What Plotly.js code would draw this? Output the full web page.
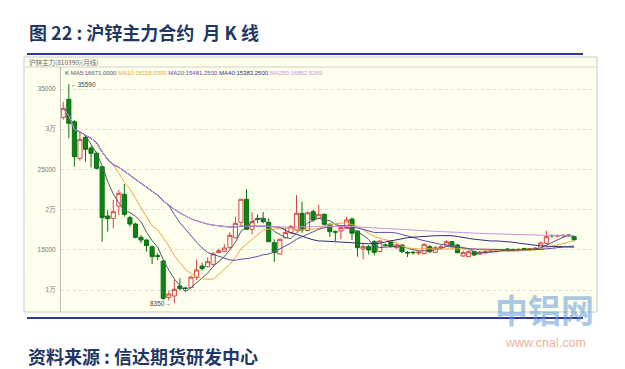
<!DOCTYPE html>
<html><head><meta charset="utf-8">
<script src="https://cdn.plot.ly/plotly-3.0.1.min.js"></script>
<style>html,body{margin:0;padding:0;background:#fff;}#chart{width:625px;height:369px;}</style>
</head><body><div id="chart"></div>
<script>
// Monthly K-line data, SHFE zinc main contract
const openP  = [31476,33715,30937,26377,28989,27662,27000,25340,19204,18914,
                20448,21899,18997,18209,16551,16219,15390,14270,13607,9088,
                9254,10497,10250,10300,11576,12985,12898,13196,14643,14809,
                15300,16500,18417,21285,17553,18914,18914,18417,15887,14478,
                16510,17138,17466,19541,17400,19748,18914,19416,18170,17253,
                17340,17672,18831,17340,15100,15390,16009,14768,15600,15970,
                15262,15597,14685,14700,14600,14560,15390,14685,15250,15473,
                16009,15597,14229,14146,14768,14450,14600,14750,14800,15000,
                15100,15050,14950,15150,15000,15050,15060,15800,16780,16700,
                16750,16830,16630];
const highP  = [33400,35590,31145,29693,29154,27910,27206,25423,19950,21194,
                22438,23184,19204,18375,16841,16302,15514,14561,13731,9917,
                11244,11451,10400,11800,13800,13400,14063,14726,15150,15700,
                17200,19100,21285,22520,19700,19400,19700,18900,16300,16400,
                17800,18100,21800,21000,19800,20000,20572,19500,18300,17400,
                18000,19100,19000,17340,15800,15600,16200,16200,15800,16200,
                15800,15700,14850,14850,14900,15800,15600,15500,15600,16200,
                16100,15750,14900,14950,14900,14850,14950,15050,15100,15100,
                15200,15150,15200,15250,15250,15350,16000,17376,16900,16900,
                16950,16950,16750];
const lowP   = [31200,28864,25340,26087,25962,25257,25009,16012,17255,17670,
                19329,19121,17877,16426,15804,14768,13234,13731,8756,8700,
                8350,9917,9900,10200,11250,12400,12815,12900,14600,14700,
                15100,16400,18000,17470,16900,18300,18300,16000,13500,14400,
                16400,17000,17300,17100,17300,18500,18800,18000,16600,16100,
                16300,17600,16200,14140,13800,14400,14300,14700,15400,15300,
                15100,14600,14100,14400,14350,14450,14600,14600,15100,15400,
                15300,14560,14150,14080,14250,14400,14550,14700,14750,14800,
                14850,14850,14900,14850,14900,14950,14950,15700,16500,16550,
                16550,16600,16100];
const closeP = [32596,30730,26584,28740,27496,26999,25133,18997,18873,19743,
                22023,19411,18209,16551,16219,15514,14146,14188,8964,9502,
                10083,10166,10200,11600,12488,12650,13522,14478,14892,15224,
                16800,18293,21285,17553,18500,18790,18500,16009,14643,16302,
                17138,17885,19541,17466,19600,18707,19416,18170,17253,17200,
                17760,18707,17051,15262,15390,14975,14685,16090,15550,15390,
                15597,14768,14600,14650,14700,15680,14768,15260,15350,16009,
                15473,14643,14643,14768,14353,14700,14800,14900,15000,14900,
                14950,15000,15050,15000,15150,15200,15850,16630,16750,16750,
                16800,16800,16255];

const maPeriods = [5, 10, 20, 40, 250];
const maNames   = ['MA5', 'MA10', 'MA20', 'MA40', 'MA250'];
const maValues  = ['16671.0000', '16118.0000', '15481.2500', '15383.2500', '16852.5269'];
const maColors  = ['#4E5A72', '#EDA445', '#5B4FA8', '#2C2C7E', '#CC92E2'];

const tickVals = [10000, 15000, 20000, 25000, 30000, 35000];
const tickText = ['1万', '15000', '2万', '25000', '3万', '35000'];

const titleText  = '图 22 : 沪锌主力合约  月 K 线';
const headerText = '沪锌主力(810390)(月线)';
const sourceText = '资料来源 : 信达期货研发中心';
const highLabel = 35590, lowLabel = 8350;

const idx = closeP.map((_, i) => i);
function movingAvg(n) {
  return closeP.map((_, i) => {
    const s = Math.max(0, i - n + 1);
    let sum = 0;
    for (let k = s; k <= i; k++) sum += closeP[k];
    return sum / (i - s + 1);
  });
}

const traces = [{
  type: 'candlestick', x: idx, open: openP, high: highP, low: lowP, close: closeP,
  increasing: {line: {color: '#D64545', width: 1}, fillcolor: '#FFFFEE'},
  decreasing: {line: {color: '#0B7310', width: 1}, fillcolor: '#0C8412'},
  whiskerwidth: 0, showlegend: false, hoverinfo: 'skip'
}];
maPeriods.forEach((n, k) => {
  traces.push({type: 'scatter', mode: 'lines', x: idx, y: movingAvg(n),
    line: {color: maColors[k], width: 1}, showlegend: false, hoverinfo: 'skip'});
});

// pixel -> paper helpers (plot area: x 61..593, y 79..310)
const L = 61, R = 593, T = 79, B = 310;
const px = x => (x - L) / (R - L);
const py = y => (B - y) / (B - T);

let legendHtml = '<span style="color:#333">K</span> ';
maNames.forEach((nm, k) => {
  legendHtml += '<span style="color:' + maColors[k] + '">' + nm + ':' + maValues[k] + '</span> ';
});

const navy = '#2B3990';
const layout = {
  width: 625, height: 369,
  margin: {l: L, r: 625 - R, t: T, b: 369 - B, pad: 0},
  paper_bgcolor: '#FFFFFF', plot_bgcolor: '#FFFFEE',
  showlegend: false, boxgap: 0.26, boxgroupgap: 0,
  xaxis: {range: [-0.41, 95.4], showgrid: false, showticklabels: false, zeroline: false,
          showline: false, ticks: '', rangeslider: {visible: false}, fixedrange: true},
  yaxis: {range: [7512, 36244], tickvals: tickVals, ticktext: tickText, ticks: '',
          tickfont: {family: 'Liberation Sans, Noto Sans CJK SC', size: 6.5, color: '#777'},
          showgrid: true, gridcolor: '#DCDCD0', griddash: 'dot', gridwidth: 1,
          zeroline: false, showline: true, linecolor: '#BDBDB5', linewidth: 1,
          ticklabelstandoff: 3, fixedrange: true},
  shapes: [
    {type: 'rect', xref: 'paper', yref: 'paper', x0: px(24), x1: px(597), y0: py(312), y1: py(57),
     fillcolor: '#FFFFEE', line: {color: '#C9C9C0', width: 1}, layer: 'below'},
    {type: 'line', xref: 'paper', yref: 'paper', x0: px(24), x1: px(597), y0: py(67), y1: py(67),
     line: {color: '#D2D2C6', width: 1}},
    {type: 'line', xref: 'paper', yref: 'paper', x0: px(60.5), x1: px(60.5), y0: py(312), y1: py(67),
     line: {color: '#BDBDB5', width: 1}},
    {type: 'line', xref: 'paper', yref: 'paper', x0: px(27), x1: px(583), y0: py(54), y1: py(54),
     line: {color: navy, width: 2}},
    {type: 'line', xref: 'paper', yref: 'paper', x0: px(27), x1: px(583), y0: py(318), y1: py(318),
     line: {color: navy, width: 2}}
  ],
  annotations: [
    {xref: 'paper', yref: 'paper', x: px(27), y: py(32), xanchor: 'left', yanchor: 'middle',
     text: '<b>' + titleText + '</b>', showarrow: false,
     font: {family: 'Noto Sans CJK SC', size: 18, color: '#1F3864'}},
    {xref: 'paper', yref: 'paper', x: px(26), y: py(356), xanchor: 'left', yanchor: 'middle',
     text: '<b>' + sourceText + '</b>', showarrow: false,
     font: {family: 'Noto Sans CJK SC', size: 18, color: '#1F3864'}},
    {xref: 'paper', yref: 'paper', x: px(27), y: py(62), xanchor: 'left', yanchor: 'middle',
     text: headerText, showarrow: false,
     font: {family: 'Noto Sans CJK SC', size: 6.5, color: '#666'}},
    {xref: 'paper', yref: 'paper', x: px(63), y: py(73), xanchor: 'left', yanchor: 'middle',
     text: legendHtml, showarrow: false,
     font: {family: 'Liberation Sans', size: 6, color: '#333'}},
    {xref: 'x', yref: 'y', x: 1, y: highLabel, xanchor: 'left', yanchor: 'middle', xshift: 0,
     text: '←' + highLabel, showarrow: false,
     font: {family: 'Liberation Sans', size: 6.5, color: '#444'}},
    {xref: 'x', yref: 'y', x: 20, y: lowLabel, xanchor: 'right', yanchor: 'middle', xshift: -1,
     text: lowLabel + '→', showarrow: false,
     font: {family: 'Liberation Sans', size: 6.5, color: '#444'}},
    {xref: 'paper', yref: 'paper', x: px(544), y: py(309), xanchor: 'center', yanchor: 'middle',
     text: '<b>中铝网</b>', showarrow: false,
     font: {family: 'Noto Sans CJK SC', size: 33, color: 'rgba(95,155,215,0.55)'}},
    {xref: 'paper', yref: 'paper', x: px(545), y: py(343), xanchor: 'center', yanchor: 'middle',
     text: 'www.cnal.com', showarrow: false,
     font: {family: 'Liberation Sans', size: 12.5, color: 'rgba(240,140,95,0.7)'}}
  ]
};

Plotly.newPlot('chart', traces, layout, {staticPlot: true, displayModeBar: false});
</script></body></html>
